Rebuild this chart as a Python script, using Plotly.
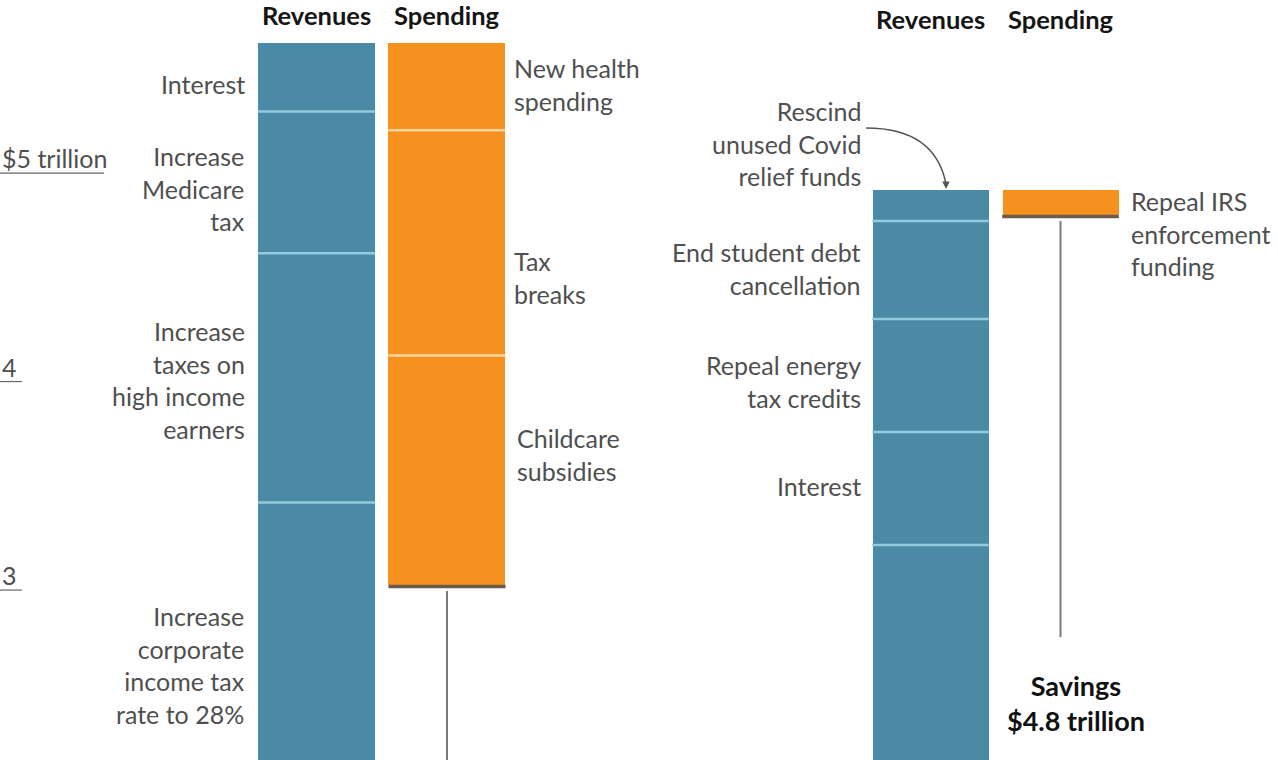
import plotly.graph_objects as go

# ---------------- data (trillions of dollars, stacked from 0) ----------------
# Left panel
left_rev_labels = ["Other", "Increase<br>corporate<br>income tax<br>rate to 28%",
                   "Increase<br>taxes on<br>high income<br>earners",
                   "Increase<br>Medicare<br>tax", "Interest"]
left_rev_values = [1.86, 1.56, 1.195, 0.68, 0.33]
left_spend_labels = ["Childcare<br>subsidies", "Tax<br>breaks", "New health<br>spending"]
left_spend_values = [1.10, 1.08, 0.42]

# Right panel
right_rev_labels = ["", "Interest", "Repeal energy<br>tax credits",
                    "End student debt<br>cancellation", "Rescind<br>unused Covid<br>relief funds"]
right_rev_values = [3.216, 0.542, 0.542, 0.47, 0.148]
right_spend_labels = ["Repeal IRS<br>enforcement<br>funding"]
right_spend_values = [0.118]

savings_text = "Savings<br>$4.8 trillion"
tick_values = [5, 4, 3]
tick_labels = ["$5 trillion", "4", "3"]
categories = ["Revenues", "Spending"]

# ---------------- style ----------------
BLUE = "#4a8aa5"
BLUE_DIV = "#93cbe0"
ORANGE = "#f6911f"
ORANGE_DIV = "#fcd59c"
NET_LINE = "#6b5b4a"
GREY_LINE = "#7a7a7a"
TXT = "#4f4f4f"
FONT = "Lato"
FS = 25
FSH = 25.5

W, H = 1278, 760
YMIN, YMAX = 2.185, 5.83


def px_to_val(py):
    return YMAX - (YMAX - YMIN) * py / H


fig = go.Figure()


def add_stack(cat, values, color, xaxis, yaxis, base0=0.0):
    cum = base0
    bases = []
    for v in values:
        bases.append(cum)
        cum += v
    fig.add_trace(go.Bar(
        x=[cat] * len(values), y=values, base=bases, width=0.897,
        marker=dict(color=color, line=dict(width=0)),
        xaxis=xaxis, yaxis=yaxis, showlegend=False, hoverinfo="skip"))
    return bases, cum


# Left panel
lr_bases, lr_top = add_stack("Revenues", left_rev_values, BLUE, "x", "y")
ls_base0 = lr_top - sum(left_spend_values)
ls_bases, ls_top = add_stack("Spending", left_spend_values, ORANGE, "x", "y", ls_base0)
# Right panel
rr_bases, rr_top = add_stack("Revenues", right_rev_values, BLUE, "x2", "y2")
rs_base0 = rr_top - sum(right_spend_values)
rs_bases, rs_top = add_stack("Spending", right_spend_values, ORANGE, "x2", "y2", rs_base0)

shapes = []
annotations = []


def dividers(bases, xc, color, xref, yref):
    for b in bases[1:]:
        shapes.append(dict(type="line", xref=xref, yref=yref, x0=xc - 0.4485, x1=xc + 0.4485,
                           y0=b, y1=b, line=dict(color=color, width=2.5), layer="above"))


dividers(lr_bases, 0, BLUE_DIV, "x", "y")
dividers(ls_bases, 1, ORANGE_DIV, "x", "y")
dividers(rr_bases, 0, BLUE_DIV, "x2", "y2")
dividers(rs_bases, 1, ORANGE_DIV, "x2", "y2")

# net (dark) line at the bottom of spending bars + grey leader line
for xref, yref, b0, yend in [("x", "y", ls_base0, YMIN - 0.1), ("x2", "y2", rs_base0, px_to_val(637))]:
    shapes.append(dict(type="line", xref=xref, yref=yref, x0=1 - 0.4485, x1=1 + 0.4485,
                       y0=b0 - 0.008, y1=b0 - 0.008, line=dict(color=NET_LINE, width=3.5), layer="above"))
    shapes.append(dict(type="line", xref=xref, yref=yref, x0=1, x1=1,
                       y0=b0 - 0.03, y1=yend, line=dict(color=GREY_LINE, width=2)))

# headers
for xref, yref, ypx in [("x", "paper", 15), ("x2", "paper", 19)]:
    for i, c in enumerate(categories):
        annotations.append(dict(x=i, y=1 - ypx / H, xref=xref, yref=yref, text="<b>%s</b>" % c,
                                showarrow=False, xanchor="center", yanchor="middle",
                                font=dict(family=FONT, size=FSH, color="#151515")))


def label(text, xpx, ypx, anchor, yref="y"):
    annotations.append(dict(x=xpx / W, y=px_to_val(ypx), xref="paper", yref=yref,
                            text=text, showarrow=False, xanchor=anchor, yanchor="middle",
                            align="right" if anchor == "right" else "left",
                            font=dict(family=FONT, size=FS, color=TXT)))


# left revenue labels (right-aligned, left of bar)
label(left_rev_labels[4], 247, 84, "right")
label(left_rev_labels[3], 247, 188, "right")
label(left_rev_labels[2], 247, 380, "right")
label(left_rev_labels[1], 247, 665, "right")
# left spending labels
label(left_spend_labels[2], 512, 84, "left")
label(left_spend_labels[1], 512, 277, "left")
label(left_spend_labels[0], 515, 454, "left")
# right revenue labels
label(right_rev_labels[4], 863, 143, "right", "y2")
label(right_rev_labels[3], 863, 268, "right", "y2")
label(right_rev_labels[2], 863, 381, "right", "y2")
label(right_rev_labels[1], 863, 486, "right", "y2")
# right spending label
label(right_spend_labels[0], 1129, 233, "left", "y2")

# savings
annotations.append(dict(x=1076 / W, y=px_to_val(703), xref="paper", yref="y2",
                        text="<b>%s</b>" % savings_text, showarrow=False,
                        xanchor="center", yanchor="middle",
                        font=dict(family=FONT, size=27, color="#111")))

# curved arrow for Covid relief label
x_start = (866 - 930.5) / 130
x_end = (946 - 930.5) / 130
x_ctrl = (935 - 930.5) / 130
shapes.append(dict(type="path", xref="x2", yref="y2",
                   path="M %f,%f Q %f,%f %f,%f" % (x_start, px_to_val(128), x_ctrl, px_to_val(128),
                                                    x_end, px_to_val(184)),
                   line=dict(color="#555", width=1.5)))
annotations.append(dict(x=x_end, y=px_to_val(189), xref="x2", yref="y2", ax=0, ay=-8,
                        showarrow=True, arrowhead=2, arrowsize=1, arrowwidth=1.5,
                        arrowcolor="#555", text=""))

# y "axis" tick labels with short underline
for v, t in zip(tick_values, tick_labels):
    annotations.append(dict(x=0, y=v, xref="paper", yref="y", text=t, showarrow=False,
                            xanchor="left", yanchor="bottom", yshift=-2,
                            font=dict(family=FONT, size=FS, color=TXT)))
    shapes.append(dict(type="line", xref="paper", yref="y", x0=0, x1=(104 if v == 5 else 22) / W,
                       y0=v, y1=v, line=dict(color="#666", width=1.2)))

ax_common = dict(showgrid=False, zeroline=False, showticklabels=False, showline=False,
                 ticks="", range=[-0.5, 1.5], categoryorder="array", categoryarray=categories)
fig.update_layout(
    width=W, height=H, margin=dict(l=0, r=0, t=0, b=0),
    paper_bgcolor="white", plot_bgcolor="white",
    barmode="overlay", bargap=0,
    xaxis=dict(domain=[251.25 / W, 512.25 / W], **ax_common),
    xaxis2=dict(domain=[865.5 / W, 1125.5 / W], **ax_common),
    yaxis=dict(range=[YMIN, YMAX], visible=False),
    yaxis2=dict(range=[YMIN, YMAX], visible=False, anchor="x2"),
    shapes=shapes, annotations=annotations,
    font=dict(family=FONT),
)
fig.data[2].update(yaxis="y2")
fig.data[3].update(yaxis="y2")
fig.write_html("out.html", config={"displayModeBar": False},
               post_script="document.body.style.margin='0';document.body.style.overflow='hidden';")
